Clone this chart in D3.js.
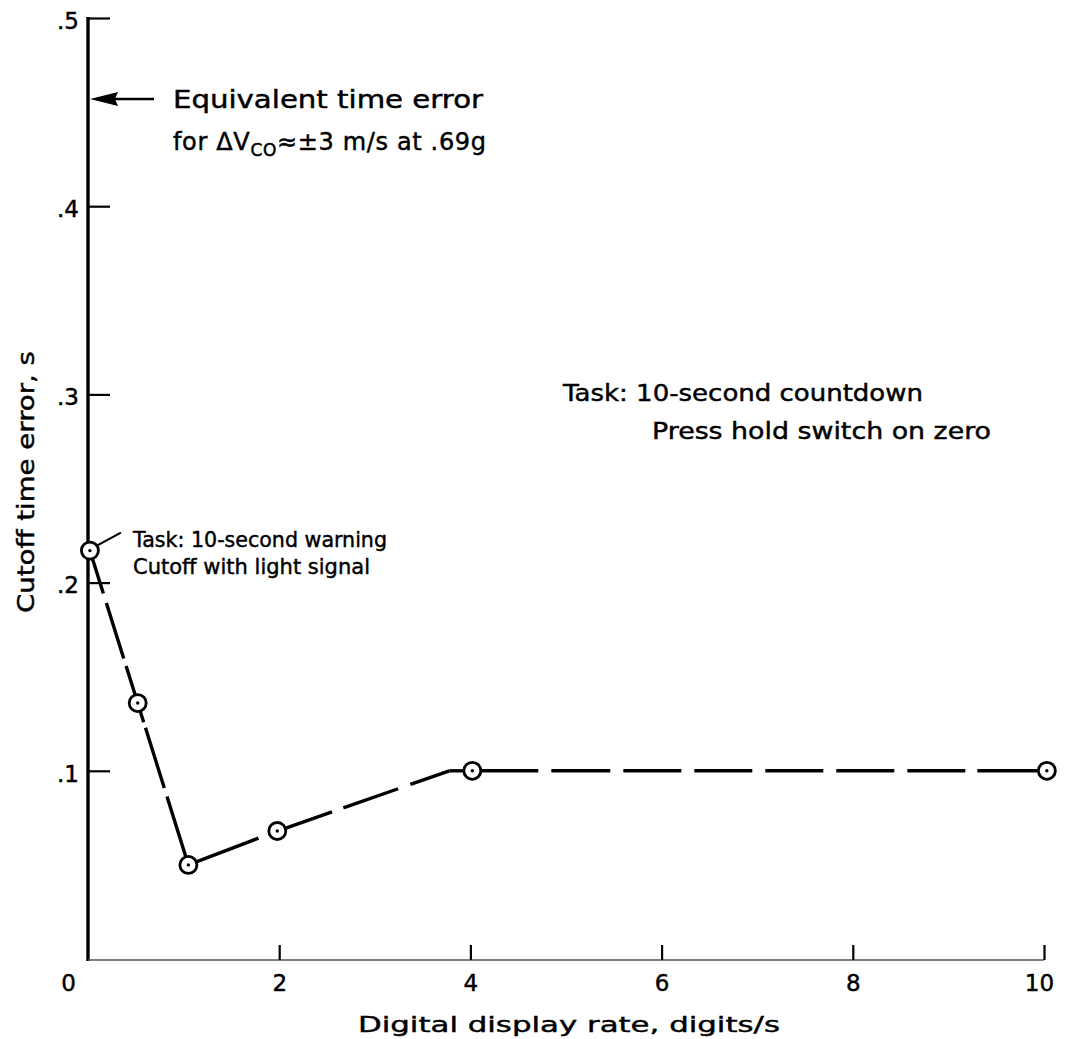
<!DOCTYPE html>
<html>
<head>
<meta charset="utf-8">
<script src="https://cdn.jsdelivr.net/npm/d3@7"></script>
<style>
  html, body { margin: 0; padding: 0; background: #fff; }
  svg { display: block; }
  text { font-family: "DejaVu Sans", sans-serif; fill: #000; stroke: #000; stroke-width: 0.45px; }
</style>
</head>
<body>
<svg id="chart" width="1066" height="1039"></svg>
<script>
// ---- data ----
const xTickValues = [2, 4, 6, 8, 10];
const xTickLabels = ["0", "2", "4", "6", "8", "10"];
const xLabelValues = [0, 2, 4, 6, 8, 10];
const yTickValues = [0.1, 0.2, 0.3, 0.4, 0.5];
const yTickLabels = [".1", ".2", ".3", ".4", ".5"];

// measured points (circles)
const rate = [0.02, 0.52, 1.05, 1.98, 4.02, 10.03];
const cutoffError = [0.217, 0.136, 0.050, 0.068, 0.100, 0.100];

// drawn curve vertices (includes a knee where the line reaches .1)
const curveRate  = [0.02, 0.52, 1.05, 1.98, 3.78, 4.02, 10.03];
const curveError = [0.217, 0.136, 0.050, 0.068, 0.100, 0.100, 0.100];

const equivalentTimeError = 0.457;

const xTitle = "Digital display rate, digits/s";
const yTitle = "Cutoff time error, s";

// ---- layout ----
const svg = d3.select("#chart");
const x = d3.scaleLinear().domain([0, 10]).range([88, 1044]);
const y = d3.scaleLinear().domain([0, 0.5]).range([959, 18]);

// y axis: ticks inward (right), labels left
const yAxisTicks = svg.append("g").attr("transform", `translate(${x(0)},0)`)
  .call(d3.axisRight(y).tickValues(yTickValues).tickSize(22).tickFormat(""));
yAxisTicks.select(".domain").remove();
yAxisTicks.selectAll(".tick line").attr("stroke", "#000").attr("stroke-width", 2.2);

svg.append("line")
  .attr("x1", x(0)).attr("x2", x(0))
  .attr("y1", y(0.5) - 1).attr("y2", y(0) + 2)
  .attr("stroke", "#000").attr("stroke-width", 3.4);

const yAxisLabels = svg.append("g").attr("transform", `translate(${x(0)},0)`)
  .call(d3.axisLeft(y).tickValues(yTickValues).tickSize(0).tickPadding(9)
    .tickFormat((d, i) => yTickLabels[i]));
yAxisLabels.select(".domain").remove();
yAxisLabels.selectAll("text").attr("font-size", 23).attr("dy", "0.45em")
  .style("font-family", "DejaVu Sans, sans-serif");

// x axis: ticks upward, labels below
svg.append("line")
  .attr("x1", x(0)).attr("x2", x(10))
  .attr("y1", y(0) + 1).attr("y2", y(0) + 1)
  .attr("stroke", "#555").attr("stroke-width", 1.4);

const xAxisTicks = svg.append("g").attr("transform", `translate(0,${y(0) + 1})`)
  .call(d3.axisTop(x).tickValues(xTickValues).tickSize(15).tickFormat(""));
xAxisTicks.select(".domain").remove();
xAxisTicks.selectAll(".tick line").attr("stroke", "#000").attr("stroke-width", 2.2);

const xAxisLabels = svg.append("g").attr("transform", `translate(0,${y(0)})`)
  .call(d3.axisBottom(x).tickValues(xLabelValues).tickSize(0).tickPadding(16)
    .tickFormat((d, i) => xTickLabels[i]));
xAxisLabels.select(".domain").remove();
xAxisLabels.selectAll("text").attr("font-size", 23)
  .style("font-family", "DejaVu Sans, sans-serif");
xAxisLabels.selectAll(".tick").filter(d => d === 0)
  .select("text").attr("x", -20);
xAxisLabels.selectAll(".tick").filter(d => d === 10)
  .select("text").attr("x", -5);

// axis titles
svg.append("text")
  .attr("x", 569).attr("y", 1032)
  .attr("text-anchor", "middle")
  .attr("font-size", 22)
  .attr("textLength", 422).attr("lengthAdjust", "spacingAndGlyphs")
  .text(xTitle);

svg.append("text")
  .attr("transform", "translate(34,482) rotate(-90)")
  .attr("text-anchor", "middle")
  .attr("font-size", 23)
  .attr("textLength", 262).attr("lengthAdjust", "spacingAndGlyphs")
  .text(yTitle);

// ---- curve ----
const pts = curveRate.map((r, i) => [x(r), y(curveError[i])]);
const segDash = [
  "45,10,58,8,200",
  "20,6,63,9,200",
  "75,300",
  "58,12,58,13,300",
  null,
  "66,13,59,13,58,13,58,13,58,13,58,13,58,12,200"
];
const lineGen = d3.line();
for (let i = 0; i < pts.length - 1; i++) {
  const p = svg.append("path")
    .attr("d", lineGen([pts[i], pts[i + 1]]))
    .attr("fill", "none")
    .attr("stroke", "#000")
    .attr("stroke-width", 3.4);
  if (segDash[i]) p.attr("stroke-dasharray", segDash[i]);
}

// markers
const markers = svg.append("g");
rate.forEach((r, i) => {
  markers.append("circle")
    .attr("cx", x(r)).attr("cy", y(cutoffError[i])).attr("r", 8.5)
    .attr("fill", "#fff").attr("stroke", "#000").attr("stroke-width", 2.8);
  markers.append("circle")
    .attr("cx", x(r)).attr("cy", y(cutoffError[i])).attr("r", 1.7)
    .attr("fill", "#000");
});

// ---- annotations ----
const ay = y(equivalentTimeError);
svg.append("path")
  .attr("d", `M${x(0) + 2},${ay} L${x(0) + 30},${ay - 7} L${x(0) + 27},${ay} L${x(0) + 30},${ay + 7} Z`)
  .attr("fill", "#000");
svg.append("line")
  .attr("x1", x(0) + 24).attr("x2", 154)
  .attr("y1", ay).attr("y2", ay)
  .attr("stroke", "#000").attr("stroke-width", 2.6);

svg.append("text").attr("x", 173).attr("y", ay + 9)
  .attr("font-size", 24)
  .attr("textLength", 310).attr("lengthAdjust", "spacingAndGlyphs")
  .text("Equivalent time error");

const t2 = svg.append("text").attr("x", 173).attr("y", ay + 51).attr("font-size", 24)
  .attr("textLength", 313).attr("lengthAdjust", "spacing");
t2.append("tspan").text("for  ΔV");
t2.append("tspan").attr("font-size", 17).attr("dy", 6).text("CO");
t2.append("tspan").attr("dy", -6).text("≈±3 m/s at .69g");

// task annotation near first point
const p0x = x(rate[0]), p0y = y(cutoffError[0]);
svg.append("line")
  .attr("x1", p0x + 7).attr("y1", p0y - 5)
  .attr("x2", p0x + 31).attr("y2", p0y - 18)
  .attr("stroke", "#000").attr("stroke-width", 2.2);

svg.append("text").attr("x", 133).attr("y", p0y - 4)
  .attr("font-size", 22)
  .attr("textLength", 254).attr("lengthAdjust", "spacingAndGlyphs")
  .text("Task: 10-second warning");
svg.append("text").attr("x", 133).attr("y", p0y + 23)
  .attr("font-size", 22)
  .attr("textLength", 237).attr("lengthAdjust", "spacingAndGlyphs")
  .text("Cutoff with light signal");

svg.append("text").attr("x", 563).attr("y", 401)
  .attr("font-size", 23)
  .attr("textLength", 360).attr("lengthAdjust", "spacingAndGlyphs")
  .text("Task: 10-second countdown");
svg.append("text").attr("x", 652).attr("y", 439)
  .attr("font-size", 23)
  .attr("textLength", 339).attr("lengthAdjust", "spacingAndGlyphs")
  .text("Press hold switch on zero");
</script>
</body>
</html>
